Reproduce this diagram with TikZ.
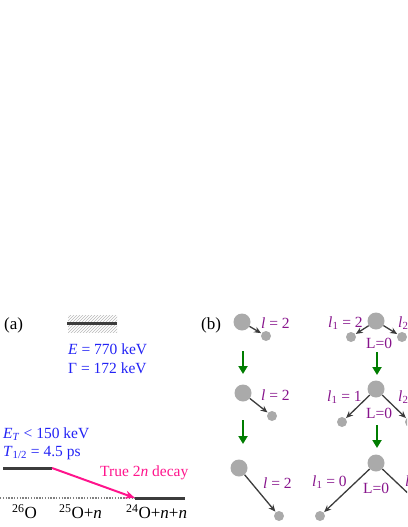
\documentclass[tikz,border=0pt]{standalone}
\usepackage{fontspec}
\setmainfont{Liberation Serif}
\usetikzlibrary{arrows.meta,patterns}
\definecolor{tblue}{RGB}{35,35,245}
\definecolor{tpink}{RGB}{255,20,140}
\definecolor{tpurple}{RGB}{135,20,140}
\definecolor{tgreen}{RGB}{0,125,0}
\definecolor{tball}{RGB}{170,170,170}
\definecolor{tline}{RGB}{60,60,60}
\begin{document}
\begin{tikzpicture}[x=1pt,y=-1pt,font=\fontsize{15.5}{18}\selectfont,
 lbl/.style={anchor=west,inner sep=0pt},
 bl/.style={lbl,text=tblue},
 pl/.style={lbl,text=tpurple},
 big/.style={circle,fill=tball,minimum size=17pt,inner sep=0pt},
 small/.style={circle,fill=tball,minimum size=10pt,inner sep=0pt},
 emit/.style={draw=tline,line width=1.3pt,-{Stealth[length=7pt,width=6pt]},shorten >=0.5pt},
 down/.style={draw=tgreen,line width=2.5pt,-{Triangle[length=8pt,width=9pt]}},
 level/.style={draw=tline,line width=3pt}]
\useasboundingbox (0,0) rectangle (407,527);
\clip (0,0) rectangle (407,527);
% ---------- panel (a)
\node[lbl,font=\fontsize{17}{20}\selectfont] (pa) at (4,325) {(a)};
\fill[pattern=north east lines,pattern color=gray!55] (68,315) rectangle (117,332);
\coordinate (r1) at (67,323); \coordinate (r2) at (117,323);
\draw[level] (r1) -- (r2);
\node[bl] (E) at (68,349) {\textit{E} = 770 keV};
\node[bl] (G) at (68,368) {Γ = 172 keV};
\node[bl] (ET) at (3,434) {\textit{E}\textsubscript{\textit{T}} < 150 keV};
\node[bl] (T12) at (3,453) {\textit{T}\textsubscript{1/2} = 4.5 ps};
\coordinate (g1) at (3,468); \coordinate (g2) at (52,468);
\draw[level] (g1) -- (g2);
\coordinate (d0) at (0,498); \coordinate (d1) at (135,498); \coordinate (d2) at (185,498);
\draw[gray,line width=1.2pt,dash pattern=on 1.3pt off 1.5pt] (d0) -- (d1);
\draw[level] (d1) -- (d2);
\draw[tpink,line width=2pt,-{Stealth[length=10pt,width=8pt]}] (g2) -- (d1);
\node[lbl,text=tpink] (true) at (100,473) {True 2\textit{n} decay};
\node[lbl,font=\fontsize{17}{20}\selectfont] (o26) at (12,512) {\textsuperscript{26}O};
\node[lbl,font=\fontsize{17}{20}\selectfont] (o25) at (59,512) {\textsuperscript{25}O+\textit{n}};
\node[lbl,font=\fontsize{17}{20}\selectfont] (o24) at (126,512) {\textsuperscript{24}O+\textit{n}+\textit{n}};
% ---------- panel (b)
\node[lbl,font=\fontsize{17}{20}\selectfont] (pb) at (201,325) {(b)};
% column 1
\node[big] (a1) at (242,322) {};
\node[small] (a1s) at (266,336) {};
\draw[emit] (a1) -- (a1s);
\node[pl] at (261,323) {\textit{l} = 2};
\node[big] (a2) at (243,393) {};
\node[small] (a2s) at (272,416) {};
\draw[emit] (a2) -- (a2s);
\node[pl] at (261,395) {\textit{l} = 2};
\node[big] (a3) at (239,468) {};
\node[small] (a3s) at (279,516) {};
\draw[emit] (a3) -- (a3s);
\node[pl] at (263,483) {\textit{l} = 2};
\coordinate (ga1) at (243,351); \coordinate (ga2) at (243,374);
\draw[down] (ga1) -- (ga2);
\coordinate (gb1) at (243,420); \coordinate (gb2) at (243,444);
\draw[down] (gb1) -- (gb2);
% column 2
\node[big] (b1) at (376,321) {};
\node[small] (b1l) at (351,337) {};
\node[small] (b1r) at (402,337) {};
\draw[emit] (b1) -- (b1l);
\draw[emit] (b1) -- (b1r);
\node[pl] at (328,323) {\textit{l}\textsubscript{1} = 2};
\node[pl] at (398,323) {\textit{l}\textsubscript{2} = 2};
\node[pl] at (366,343) {L=0};
\node[big] (b2) at (376,389) {};
\node[small] (b2l) at (342,422) {};
\node[small] (b2r) at (410,422) {};
\draw[emit] (b2) -- (b2l);
\draw[emit] (b2) -- (b2r);
\node[pl] at (327,397) {\textit{l}\textsubscript{1} = 1};
\node[pl] at (398,397) {\textit{l}\textsubscript{2} = 1};
\node[pl] at (366,413) {L=0};
\node[big] (b3) at (376,463) {};
\node[small] (b3l) at (320,516) {};
\node[small] (b3r) at (432,516) {};
\draw[emit] (b3) -- (b3l);
\draw[emit] (b3) -- (b3r);
\node[pl] at (312,482) {\textit{l}\textsubscript{1} = 0};
\node[pl] at (405,482) {\textit{l}\textsubscript{2} = 0};
\node[pl] at (363,488) {L=0};
\coordinate (gc1) at (377,352); \coordinate (gc2) at (377,375);
\draw[down] (gc1) -- (gc2);
\coordinate (gd1) at (377,425); \coordinate (gd2) at (377,448);
\draw[down] (gd1) -- (gd2);
\end{tikzpicture}
\end{document}
